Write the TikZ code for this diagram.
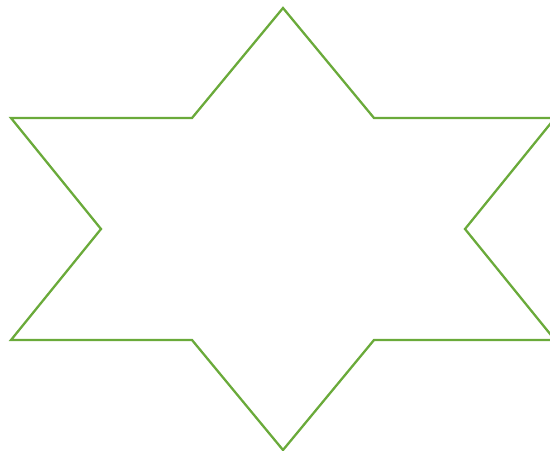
\documentclass[tikz,border=0pt]{standalone}
\usepackage{tikz}
\definecolor{stargreen}{RGB}{106,170,58}

\begin{document}
\begin{tikzpicture}[x=0.02cm, y=-0.02cm]
        \useasboundingbox (0,0) rectangle (550,450);
        \clip (0,0) rectangle (550,450);
        % hexagram, centre (283,229), right tip runs past the edge
        \draw[stargreen, line width=1.3pt, line join=miter]
          (283,8) -- (374,118) -- (555,118) -- (465,229) -- (555,340)
          -- (374,340) -- (283,450) -- (192,340) -- (11,340)
          -- (101,229) -- (11,118) -- (192,118) -- cycle;
      \end{tikzpicture}
\end{document}
